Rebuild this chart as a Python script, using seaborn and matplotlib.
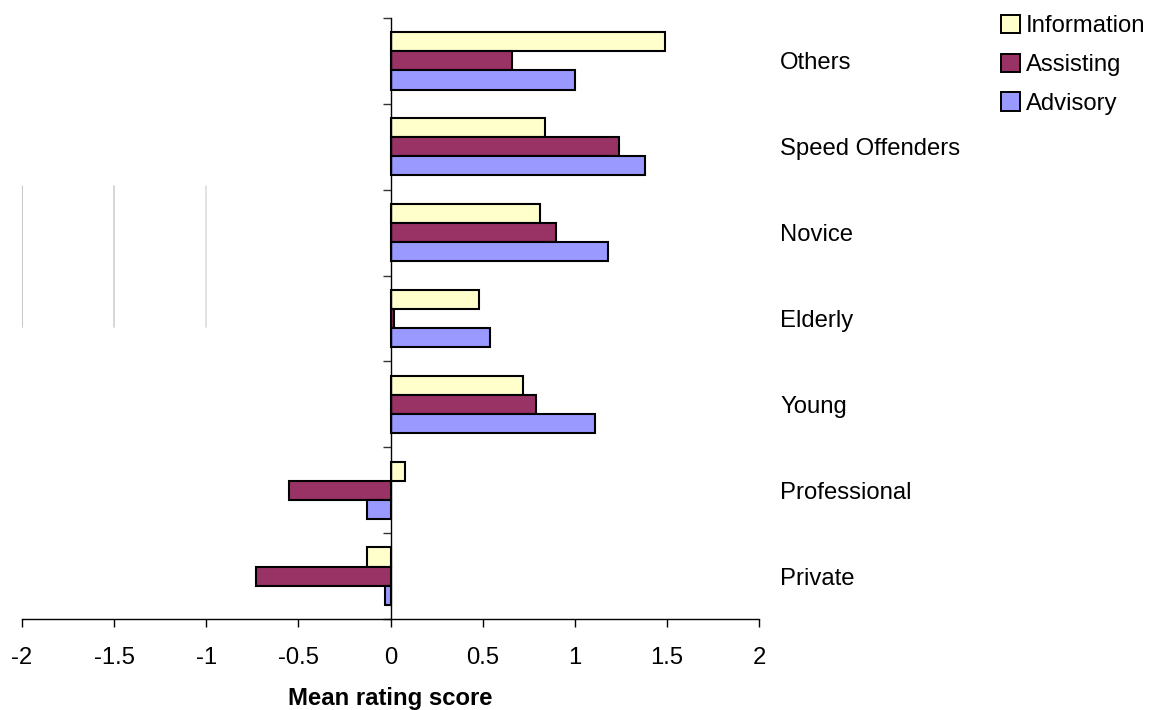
import numpy as np
import pandas as pd
import matplotlib
matplotlib.use("Agg")
import matplotlib.pyplot as plt
import matplotlib.transforms as mtransforms
from matplotlib.patches import Patch
import seaborn as sns

# Road-user groups, listed top to bottom
groups = ["Others", "Speed Offenders", "Novice", "Elderly", "Young", "Professional", "Private"]
series = ["Information", "Assisting", "Advisory"]

information = [1.49, 0.84, 0.81, 0.48, 0.72, 0.08, -0.13]
assisting = [0.66, 1.24, 0.90, 0.02, 0.79, -0.55, -0.73]
advisory = [1.00, 1.38, 1.18, 0.54, 1.11, -0.13, -0.03]

colors = ["#FFFFCC", "#993366", "#9999FF"]
xticks = [-2, -1.5, -1, -0.5, 0, 0.5, 1, 1.5, 2]
xtick_labels = ["-2", "-1.5", "-1", "-0.5", "0", "0.5", "1", "1.5", "2"]

df = pd.DataFrame({
    "group": groups * 3,
    "series": np.repeat(series, len(groups)),
    "value": information + assisting + advisory,
})

sns.set_theme(style="white")
plt.rcParams["font.family"] = ["Liberation Sans", "DejaVu Sans"]
plt.rcParams["axes.unicode_minus"] = False
plt.rcParams["text.color"] = "black"
plt.rcParams["axes.labelcolor"] = "black"
plt.rcParams["xtick.color"] = "black"
plt.rcParams["ytick.color"] = "black"
FS = 17.2

fig = plt.figure(figsize=(11.53, 7.10), dpi=100)
ax = fig.add_axes([22 / 1153, 1 - 619 / 710, 737 / 1153, 601 / 710])

sns.barplot(
    data=df, x="value", y="group", hue="series",
    order=groups, hue_order=series, palette=colors,
    orient="h", width=0.667, gap=0, saturation=1,
    edgecolor="black", linewidth=1.5, legend=False, ax=ax,
)

ax.set_xlim(-2, 2)
ax.set_ylim(len(groups) - 0.5, -0.5)

# faint vertical lines on the left part of the plot area
for xv, col in zip([-2, -1.5, -1], ["#bdbdbd", "#cfcfcf", "#dddddd"]):
    ax.axvline(xv, ymin=0.486, ymax=0.7205, color=col, lw=1.2, zorder=0)

for s in ["top", "right"]:
    ax.spines[s].set_visible(False)
ax.spines["left"].set_position(("data", 0))
for s in ["left", "bottom"]:
    ax.spines[s].set_color("black")
    ax.spines[s].set_linewidth(1.0)

ax.set_xticks(xticks)
ax.set_xticklabels(xtick_labels, fontsize=FS)
ax.set_yticks(np.arange(-0.5, len(groups), 1.0))
ax.set_yticklabels([])
ax.tick_params(axis="x", direction="out", length=6, width=1, color="black", pad=14, bottom=True)
ax.tick_params(axis="y", direction="out", length=6, width=1, color="#333333", left=True)
ax.set_ylabel("")
ax.set_xlabel("Mean rating score", fontsize=FS, fontweight="bold", labelpad=13)

trans = mtransforms.blended_transform_factory(ax.transAxes, ax.transData)
for i, name in enumerate(groups):
    ax.text((780 - 22) / 737, i, name, transform=trans, ha="left",
            va="center_baseline", fontsize=FS)

handles = [Patch(facecolor=c, edgecolor="black", linewidth=1.4) for c in colors]
fig.legend(handles, series, loc="upper left", bbox_to_anchor=(1001 / 1153, 1 - 15 / 710),
           frameon=False, fontsize=FS, handlelength=0.8, handleheight=0.8,
           handletextpad=0.25, labelspacing=0.68, borderpad=0, borderaxespad=0)

fig.savefig("out.png", dpi=100)
